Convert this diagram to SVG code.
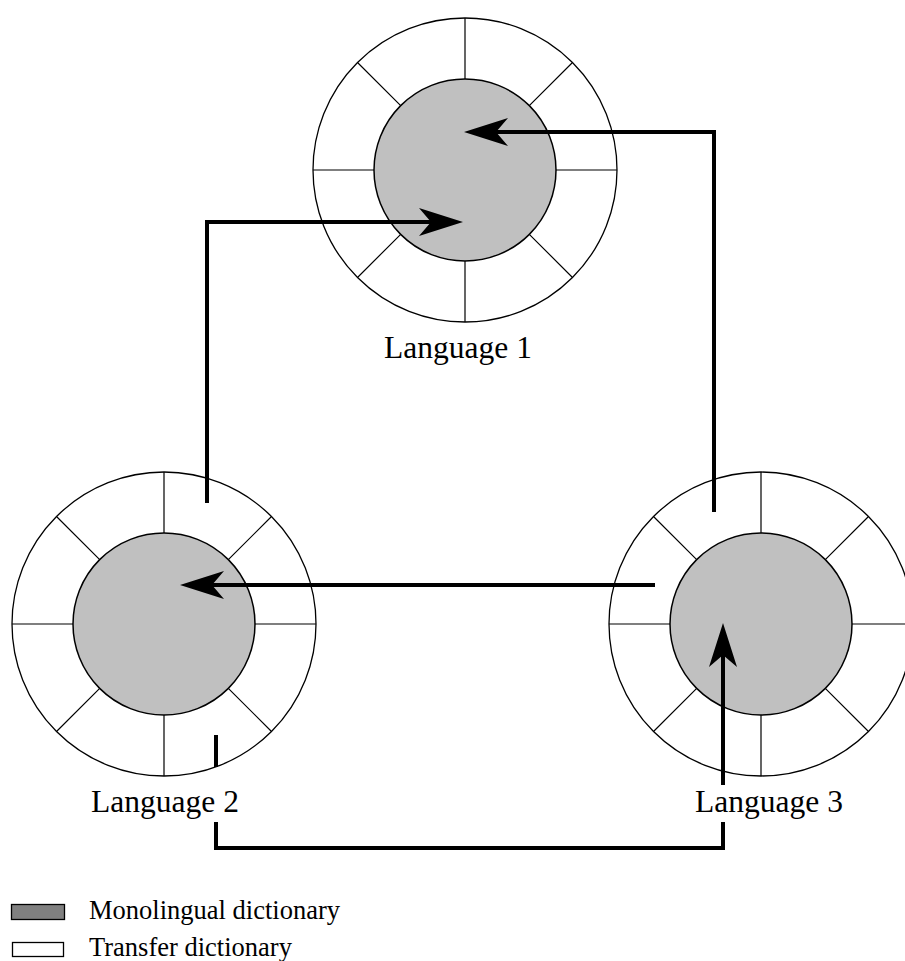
<svg xmlns="http://www.w3.org/2000/svg" width="905" height="961" viewBox="0 0 905 961">
<style>
.outer{fill:#fff;stroke:#000;stroke-width:1.3}
.inner{fill:#c0c0c0;stroke:#000;stroke-width:1.5}
.spoke{stroke:#000;stroke-width:1.2}
.lbl{font-family:"Liberation Serif","Times New Roman",serif;font-size:31.5px;fill:#000;text-anchor:middle}
.leg{font-family:"Liberation Serif","Times New Roman",serif;font-size:26.5px;fill:#000}
.conn{fill:none;stroke:#000;stroke-width:4;marker-end:url(#ah)}
</style>
<defs>
<marker id="ah" markerUnits="userSpaceOnUse" orient="auto" refX="0" refY="0" markerWidth="80" markerHeight="80" overflow="visible">
<path d="M30,0 L-14,-14 L-2,0 L-14,14 Z" fill="#000"/>
</marker>
<g id="wheel">
<circle class="outer" cx="0" cy="0" r="152"/>
<path class="spoke" d="M0,-152V-91M0,91V152M-152,0H-91M91,0H152M-107.5,-107.5L-64.3,-64.3M107.5,-107.5L64.3,-64.3M-107.5,107.5L-64.3,64.3M107.5,107.5L64.3,64.3"/>
<circle class="inner" cx="0" cy="0" r="91"/>
</g>
</defs>
<g id="lang1">
<use href="#wheel" x="465" y="170"/>
<text class="lbl" x="458" y="358">Language 1</text>
</g>
<g id="lang2">
<use href="#wheel" x="164" y="624"/>
<text class="lbl" x="165" y="812">Language 2</text>
</g>
<g id="lang3">
<use href="#wheel" x="761" y="624"/>
<text class="lbl" x="769" y="812">Language 3</text>
</g>
<g id="connectors">
<path class="conn" d="M714,512 L714,132 L494,132"/>
<path class="conn" d="M207,503 L207,222 L433,222"/>
<path class="conn" d="M655,585 L210,585"/>
<path class="conn" d="M216,735 L216,767 M216,822 L216,848 L723,848 L723,822 M723,785 L723,653"/>
</g>
<g id="legend">
<rect x="11.5" y="904.5" width="53" height="15" fill="#808080" stroke="#000" stroke-width="1.3"/>
<text class="leg" x="89" y="919">Monolingual dictionary</text>
<rect x="12.5" y="942.5" width="51" height="14" fill="#fff" stroke="#000" stroke-width="1.3"/>
<text class="leg" x="89" y="956">Transfer dictionary</text>
</g>
</svg>
